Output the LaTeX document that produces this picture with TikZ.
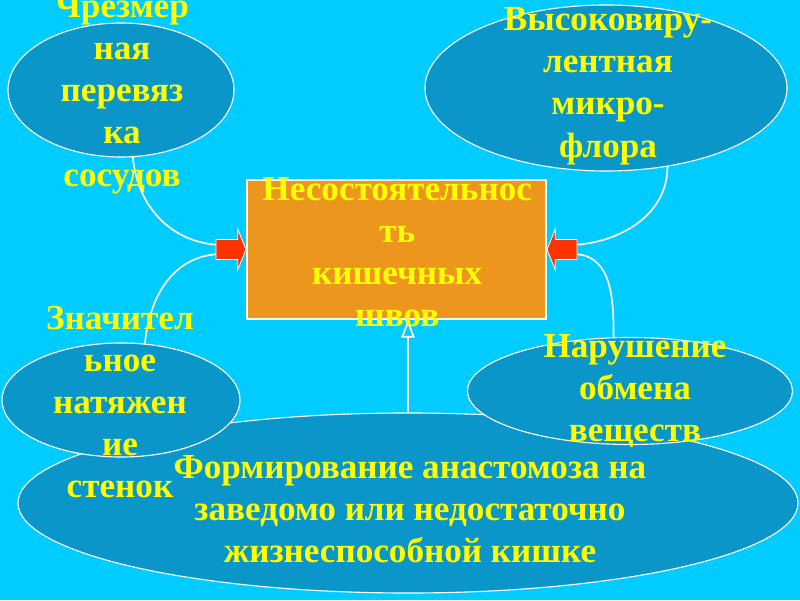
\documentclass[tikz,border=0pt]{standalone}
\usepackage{fontspec}
\setmainfont{Liberation Serif}
\usetikzlibrary{positioning, arrows.meta, shapes.geometric, shapes.arrows}
\definecolor{SkyBg}{HTML}{00CCFF}
\definecolor{OvalBlue}{HTML}{0A96C8}
\definecolor{BoxOrange}{HTML}{EC961E}
\definecolor{ArrowRed}{HTML}{FF3300}
\definecolor{TextYellow}{HTML}{FFFF00}

\tikzset{
  oval/.style={ellipse, draw=white, line width=0.8pt, fill=OvalBlue, inner sep=0pt},
  yellowtext/.style={text=TextYellow, align=center, inner sep=0pt,
    font=\bfseries\fontsize{25}{30}\selectfont},
  redarrow/.style={single arrow, fill=ArrowRed, draw=white, line width=0.6pt,
    minimum height=0.75cm, inner xsep=0pt, inner ysep=0.24cm,
    single arrow head extend=0.26cm, single arrow tip angle=136},
  wire/.style={white, line width=1.2pt},
  uparrow/.style={white, line width=2pt,
    -{Triangle[open, length=4.5mm, width=3.3mm, line width=1.2pt]}},
}

\begin{document}
\begin{tikzpicture}
  \useasboundingbox (0,0) rectangle (20,15);
  % --- Background ---
  \fill[SkyBg] (0,0) rectangle (20,15);
  \clip (0,0) rectangle (20,15);

  % --- Ovals ---
  % bottom one first, the two middle ones overlap it
  \node[oval, minimum width=19.5cm, minimum height=4.5cm] (form) at (10.2,2.425) {};
  \node[oval, minimum width=5.95cm, minimum height=2.85cm] (tens) at (3.025,5.0) {};
  \node[oval, minimum width=8.125cm, minimum height=2.675cm] (metab) at (15.75,5.225) {};
  \node[oval, minimum width=5.65cm, minimum height=3.35cm] (ligat) at (3.025,12.75) {};
  \node[oval, minimum width=9.05cm, minimum height=4.15cm] (flora) at (15.15,12.8) {};

  % --- Central box ---
  \node[fill=BoxOrange, draw=white, line width=0.8pt,
        minimum width=7.475cm, minimum height=3.475cm] (fail) at (9.9125,8.7625) {};

  % --- Red arrows into the box ---
  \node[redarrow, anchor=tip] (larr) at (fail.west) {};
  \node[redarrow, anchor=tip, shape border rotate=180] (rarr) at (fail.east) {};

  % --- Connectors ---
  \draw[wire] (ligat.-80) to[out=-85, in=175] ([yshift=1.2mm]larr.tail);
  \draw[wire] (tens.67) to[out=85, in=185] ([yshift=-1.2mm]larr.tail);
  \draw[wire] (flora.-52) to[out=-90, in=5] ([yshift=1.2mm]rarr.tail);
  \draw[wire] (metab.107) to[out=90, in=-5] ([yshift=-1.2mm]rarr.tail);
  \draw[uparrow] (form.north) -- (form.north |- fail.south);

  % --- Text ---
  \node[yellowtext] (ligattext) at (3.05,12.65) {Чрезмер\\ная\\перевяз\\ка\\сосудов};
  \node[yellowtext] (floratext) at (15.2,12.85) {Высоковиру-\\лентная\\микро-\\флора};
  \node[yellowtext] (failtext) at (9.93,8.7) {Несостоятельнос\\ть\\кишечных\\швов};
  \node[yellowtext] (tenstext) at (3.0,4.95) {Значител\\ьное\\натяжен\\ие\\стенок};
  \node[yellowtext] (metabtext) at (15.875,5.225) {Нарушение\\обмена\\веществ};
  \node[yellowtext] (formtext) at (10.25,2.275) {Формирование анастомоза на\\заведомо или недостаточно\\жизнеспособной кишке};
\end{tikzpicture}
\end{document}
